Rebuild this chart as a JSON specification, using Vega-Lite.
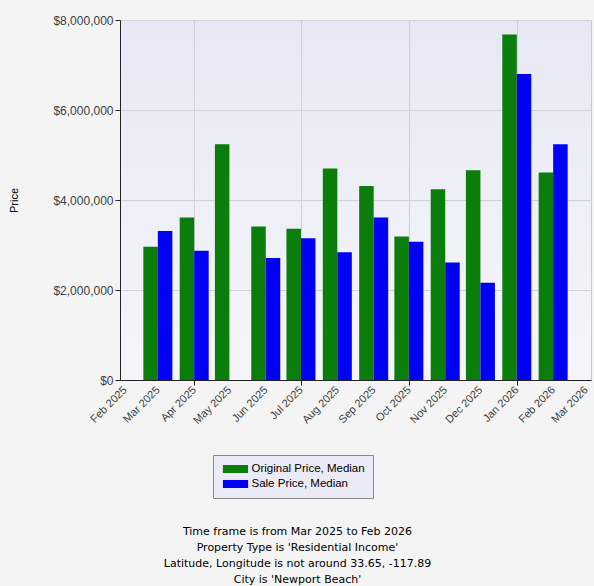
{
  "$schema": "https://vega.github.io/schema/vega-lite/v6.json",
  "autosize": {"type": "none"},
  "width": 471,
  "height": 360,
  "padding": {"left": 120, "top": 20, "right": 3, "bottom": 206},
  "background": "#f4f4f4",
  "title": {
    "text": ["Time frame is from Mar 2025 to Feb 2026", "Property Type is 'Residential Income'", "Latitude, Longitude is not around 33.65, -117.89", "City is 'Newport Beach'"],
    "orient": "bottom",
    "anchor": "middle",
    "frame": "group",
    "dx": -58,
    "offset": 27,
    "font": "DejaVu Sans",
    "fontSize": 11,
    "fontWeight": "normal",
    "lineHeight": 16,
    "color": "#000000"
  },
  "data": {
    "values": [
      {"month": "2025-03-01", "series": "Original Price, Median", "price": 2960000},
      {"month": "2025-03-01", "series": "Sale Price, Median", "price": 3310000},
      {"month": "2025-04-01", "series": "Original Price, Median", "price": 3610000},
      {"month": "2025-04-01", "series": "Sale Price, Median", "price": 2870000},
      {"month": "2025-05-01", "series": "Original Price, Median", "price": 5240000},
      {"month": "2025-06-01", "series": "Original Price, Median", "price": 3410000},
      {"month": "2025-06-01", "series": "Sale Price, Median", "price": 2710000},
      {"month": "2025-07-01", "series": "Original Price, Median", "price": 3360000},
      {"month": "2025-07-01", "series": "Sale Price, Median", "price": 3150000},
      {"month": "2025-08-01", "series": "Original Price, Median", "price": 4700000},
      {"month": "2025-08-01", "series": "Sale Price, Median", "price": 2840000},
      {"month": "2025-09-01", "series": "Original Price, Median", "price": 4310000},
      {"month": "2025-09-01", "series": "Sale Price, Median", "price": 3610000},
      {"month": "2025-10-01", "series": "Original Price, Median", "price": 3190000},
      {"month": "2025-10-01", "series": "Sale Price, Median", "price": 3070000},
      {"month": "2025-11-01", "series": "Original Price, Median", "price": 4240000},
      {"month": "2025-11-01", "series": "Sale Price, Median", "price": 2610000},
      {"month": "2025-12-01", "series": "Original Price, Median", "price": 4660000},
      {"month": "2025-12-01", "series": "Sale Price, Median", "price": 2160000},
      {"month": "2026-01-01", "series": "Original Price, Median", "price": 7680000},
      {"month": "2026-01-01", "series": "Sale Price, Median", "price": 6800000},
      {"month": "2026-02-01", "series": "Original Price, Median", "price": 4610000},
      {"month": "2026-02-01", "series": "Sale Price, Median", "price": 5240000}
    ]
  },
  "encoding": {
    "x": {
      "field": "month",
      "type": "temporal",
      "scale": {
        "type": "utc",
        "domain": [{"year": 2025, "month": 2, "date": 1, "utc": true}, {"year": 2026, "month": 3, "date": 1, "utc": true}],
        "nice": false
      },
      "axis": {
        "title": null,
        "labelExpr": "utcFormat(datum.value, '%b %Y')",
        "tickCount": {"interval": "month", "step": 1},
        "labelAngle": -45,
        "labelAlign": "right",
        "labelBaseline": "middle",
        "labelFont": "Liberation Sans",
        "labelFontSize": 11,
        "labelColor": "#404040",
        "labelPadding": 3,
        "labelOverlap": false,
        "labelFlush": false,
        "domainColor": "#222222",
        "tickColor": "#222222",
        "tickSize": 5,
        "tickOpacity": {"condition": {"test": "utcmonth(datum.value) % 3 == 0", "value": 1}, "value": 0},
        "grid": true,
        "gridColor": "#cfcfd8",
        "gridOpacity": {"condition": {"test": "utcmonth(datum.value) % 3 == 0", "value": 1}, "value": 0}
      }
    },
    "y": {
      "field": "price",
      "type": "quantitative",
      "scale": {"domain": [0, 8000000], "nice": false},
      "axis": {
        "title": "Price",
        "titleFont": "Liberation Sans",
        "titleFontSize": 11,
        "titleFontWeight": "normal",
        "titleColor": "#000000",
        "titleX": -101,
        "values": [0, 2000000, 4000000, 6000000, 8000000],
        "format": "$,.0f",
        "labelFont": "Liberation Sans",
        "labelFontSize": 12,
        "labelColor": "#404040",
        "labelPadding": 2,
        "domainColor": "#222222",
        "tickColor": "#222222",
        "tickSize": 5,
        "grid": true,
        "gridColor": "#cfcfd8"
      }
    },
    "color": {
      "field": "series",
      "type": "nominal",
      "scale": {"domain": ["Original Price, Median", "Sale Price, Median"], "range": ["#0a7d0a", "#0000f5"]},
      "legend": {
        "title": null,
        "orient": "none",
        "legendX": 93,
        "legendY": 435,
        "fillColor": "#ebebf7",
        "strokeColor": "#888888",
        "padding": 8,
        "labelFont": "Liberation Sans",
        "labelFontSize": 11.5,
        "labelColor": "#000000",
        "labelExpr": "datum.label + '\u00a0\u00a0\u00a0'",
        "symbolType": "M-2.1,-0.67H2.1V0.67H-2.1Z",
        "symbolSize": 144,
        "symbolOffset": 8.5,
        "symbolStrokeWidth": 0,
        "symbolOpacity": 1,
        "labelOffset": 10,
        "rowPadding": 3
      }
    }
  },
  "layer": [
    {
      "transform": [{"filter": "datum.series === 'Original Price, Median'"}],
      "mark": {"type": "bar", "width": 14.5, "xOffset": -7.25, "opacity": 1}
    },
    {
      "transform": [{"filter": "datum.series === 'Sale Price, Median'"}],
      "mark": {"type": "bar", "width": 14.5, "xOffset": 7.25, "opacity": 1}
    }
  ],
  "config": {
    "view": {
      "fill": {"gradient": "linear", "x1": 0, "y1": 0, "x2": 0, "y2": 1, "stops": [{"offset": 0, "color": "#e8e8f5"}, {"offset": 1, "color": "#f5f5f9"}]},
      "stroke": "#c8c8d0"
    }
  }
}
